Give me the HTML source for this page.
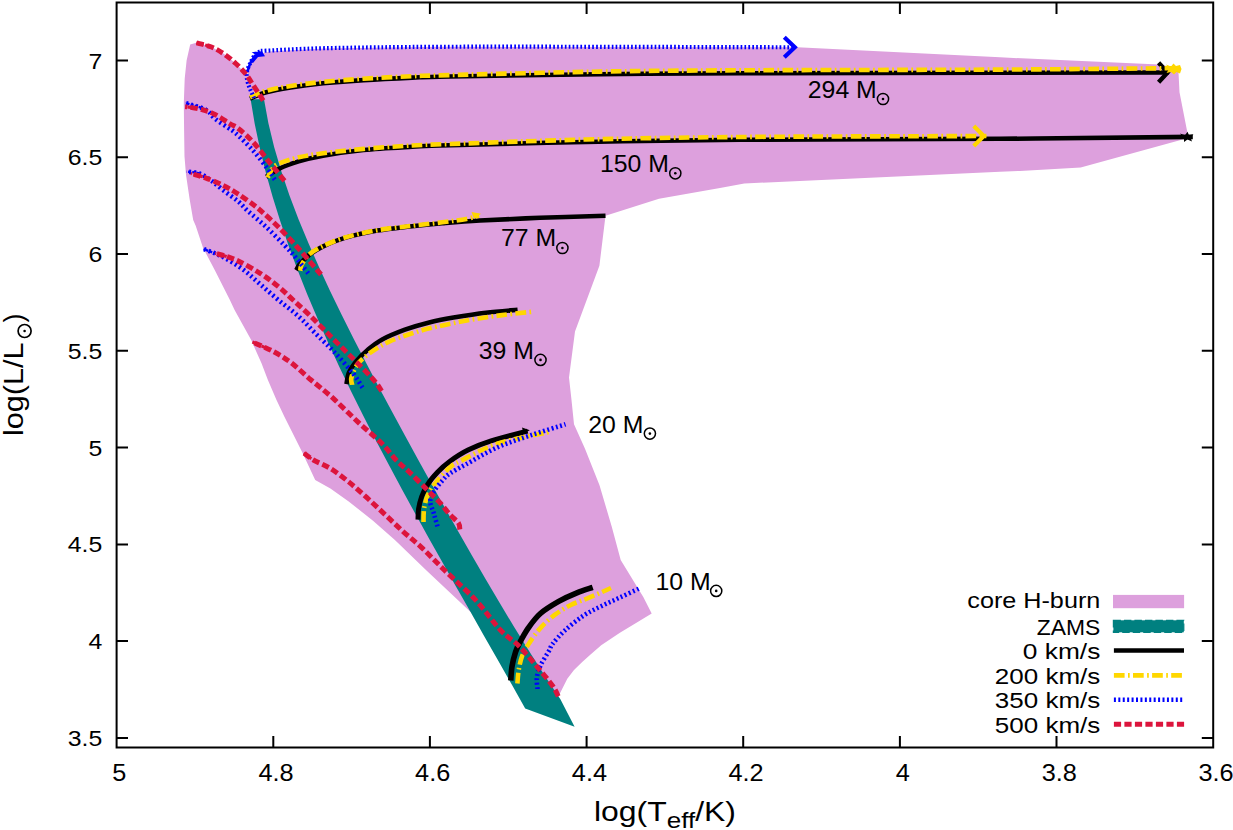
<!DOCTYPE html>
<html><head><meta charset="utf-8"><title>HR diagram</title>
<style>html,body{margin:0;padding:0;background:#fff;}body{width:1233px;height:830px;overflow:hidden;}svg{display:block;}text{font-family:"Liberation Sans",sans-serif;fill:#000;}</style>
</head><body>
<svg width="1233" height="830" viewBox="0 0 1233 830">
<rect x="0" y="0" width="1233" height="830" fill="#fff"/>
<path d="M190.2 44.4 L196.3 42.8 L211.5 47.0 L223.7 53.7 L235.8 63.5 L245.6 73.8 L248.0 73.8 L250.4 62.8 L255.3 56.8 L262.6 53.1 L272.3 51.2 L325.0 48.6 L440.0 46.8 L797.4 47.3 L1000.0 57.3 L1159.0 64.6 L1178.3 68.2 L1179.5 92.3 L1188.0 135.7 L1188.0 138.0 L1080.7 167.5 L1020.0 170.9 L1000.0 171.8 L744.3 183.5 L720.0 187.9 L659.0 198.8 L605.5 215.8 L599.4 265.7 L575.0 331.4 L569.0 377.6 L571.5 400.0 L574.0 424.3 L585.0 448.7 L599.5 485.2 L611.7 526.5 L620.7 560.0 L643.3 597.0 L651.7 613.5 L637.7 622.0 L619.5 633.0 L601.2 645.2 L590.0 655.0 L582.5 661.8 L574.0 670.0 L567.3 678.7 L560.0 693.3 L558.2 696.3 L536.9 666.5 L500.0 630.0 L470.3 611.8 L426.5 570.4 L415.6 560.0 L394.9 540.0 L373.0 520.8 L348.7 501.4 L330.4 488.6 L315.2 480.1 L302.6 453.0 L284.3 416.5 L276.5 400.0 L267.9 380.0 L261.5 363.3 L251.2 340.1 L234.6 310.0 L229.9 300.0 L215.1 270.8 L203.0 247.7 L195.7 225.8 L193.2 220.0 L189.6 199.0 L186.0 174.7 L184.5 156.5 L184.1 130.0 L183.8 103.0 L184.7 78.7 L186.6 60.4Z" fill="#DDA0DD"/>
<path d="M250.6 99.3 L254.7 123.7 L259.8 148.0 L265.8 172.4 L272.6 196.8 L280.2 221.1 L288.5 245.5 L297.6 269.9 L307.2 294.2 L317.5 318.6 L328.3 343.0 L339.5 367.3 L351.3 391.7 L363.4 416.1 L375.9 440.5 L388.8 464.8 L401.9 489.2 L415.2 513.6 L428.7 537.9 L442.4 562.3 L456.1 586.7 L470.0 611.0 L483.8 635.4 L497.7 659.8 L511.5 684.1 L525.2 708.5 L574.6 726.7 L560.4 699.3 L544.5 675.3 L529.2 651.3 L514.3 627.3 L499.9 603.3 L485.7 579.3 L471.8 555.3 L458.1 531.3 L444.6 507.3 L431.2 483.3 L417.9 459.3 L404.8 435.3 L391.8 411.3 L378.9 387.3 L366.3 363.3 L353.9 339.3 L341.9 315.3 L330.2 291.3 L319.1 267.3 L308.5 243.3 L298.5 219.3 L289.4 195.3 L281.3 171.3 L274.2 147.3 L268.4 123.3 L264.0 99.3Z" fill="#008080"/>
<path d="M250.0 98.6 C252.7 97.5 259.4 94.1 266.2 92.2 C273.0 90.3 281.1 88.9 290.6 87.4 C300.1 85.9 310.9 84.5 323.0 83.3 C335.1 82.1 348.6 81.0 363.5 80.1 C378.4 79.1 397.8 78.2 412.2 77.6 C426.6 77.0 418.7 77.1 450.0 76.5 C481.3 75.9 551.7 74.7 600.0 74.2 C648.3 73.7 673.3 73.5 740.0 73.3 C806.7 73.1 928.5 72.9 1000.0 72.8 C1071.5 72.7 1140.6 72.5 1168.7 72.5" fill="none" stroke="#000" stroke-width="4.6"/>
<path d="M266.2 176.8 C268.4 175.5 273.8 171.3 279.2 168.7 C284.6 166.1 291.4 163.6 298.7 161.4 C306.0 159.2 312.2 157.6 323.0 155.7 C333.8 153.8 348.6 151.5 363.5 150.0 C378.4 148.5 397.8 147.6 412.2 146.8 C426.6 146.0 421.0 146.0 450.0 145.2 C479.0 144.4 537.7 142.9 586.0 142.0 C634.3 141.1 671.0 140.3 740.0 139.8 C809.0 139.3 924.5 139.3 1000.0 138.8 C1075.5 138.3 1160.7 137.2 1192.8 136.9" fill="none" stroke="#000" stroke-width="4.6"/>
<path d="M296.2 270.3 C296.8 269.4 297.3 267.2 299.5 264.6 C301.7 262.0 305.4 257.9 309.2 254.9 C313.0 251.9 316.2 249.6 322.2 246.8 C328.1 244.0 335.7 240.6 344.9 237.9 C354.1 235.2 366.5 232.5 377.3 230.6 C388.1 228.7 399.0 227.7 409.8 226.5 C420.6 225.3 430.5 224.3 442.2 223.3 C453.9 222.3 463.7 221.4 480.0 220.5 C496.3 219.6 519.1 218.6 540.0 217.8 C560.9 217.0 594.6 216.1 605.5 215.8" fill="none" stroke="#000" stroke-width="4.6"/>
<path d="M346.5 384.1 C346.9 382.2 347.3 376.5 348.9 372.7 C350.5 368.9 353.1 365.2 356.2 361.4 C359.3 357.6 363.3 353.6 367.6 350.0 C371.9 346.4 376.0 342.9 382.2 339.5 C388.4 336.1 397.1 332.6 404.9 329.7 C412.7 326.8 421.1 324.4 429.2 322.4 C437.3 320.4 444.0 319.2 453.5 317.6 C463.0 316.0 475.3 314.0 486.0 312.7 C496.7 311.4 512.3 310.3 517.6 309.8" fill="none" stroke="#000" stroke-width="4.6"/>
<path d="M418.0 519.6 C418.1 517.8 418.0 512.5 418.6 508.7 C419.2 504.8 420.2 500.6 421.7 496.5 C423.2 492.4 425.1 488.4 427.7 484.3 C430.3 480.2 433.8 476.1 437.5 472.2 C441.2 468.3 444.9 464.9 450.0 461.2 C455.1 457.5 461.1 453.4 468.0 450.0 C474.9 446.6 481.2 443.9 491.1 440.8 C501.0 437.7 521.5 432.7 527.6 431.1" fill="none" stroke="#000" stroke-width="5.0"/>
<path d="M510.8 680.5 C511.0 678.2 511.2 671.3 512.0 666.5 C512.8 661.7 514.3 655.9 515.6 651.9 C516.9 647.9 517.6 646.7 519.7 642.7 C521.8 638.7 524.8 633.0 528.2 628.1 C531.7 623.2 535.3 618.0 540.4 613.5 C545.5 609.0 552.6 604.9 558.7 601.4 C564.8 597.9 571.2 595.1 576.9 592.8 C582.6 590.5 590.1 588.3 592.7 587.4" fill="none" stroke="#000" stroke-width="5.6"/>
<path d="M1158.6 62.7 L1167.6 72.5 L1158.6 82.3" fill="none" stroke="#000000" stroke-width="4.4" stroke-linejoin="miter"/>
<path d="M1180 133.5 L1185 135.2 L1187.5 131.8 L1189 135.2 L1193.5 134.2 L1190.5 137.6 L1192 141.5 L1187.5 139.6 L1184 142 L1184 138.5 Z" fill="#000"/>
<path d="M522 427.6 L529.8 430.2 L523.5 433.6 Z" fill="#000"/>
<path d="M250.0 97.3 C252.7 96.2 259.4 92.7 266.2 90.8 C273.0 88.9 281.1 87.5 290.6 86.0 C300.1 84.5 310.9 83.1 323.0 81.9 C335.1 80.7 348.6 79.7 363.5 78.7 C378.4 77.8 397.8 76.8 412.2 76.2 C426.6 75.6 418.7 75.9 450.0 75.1 C481.3 74.3 551.7 72.4 600.0 71.6 C648.3 70.8 673.3 70.6 740.0 70.3 C806.7 70.0 926.8 69.9 1000.0 69.6 C1073.2 69.2 1149.6 68.4 1179.5 68.2" fill="none" stroke="#FFD700" stroke-width="4.6" stroke-dasharray="10.7 3.4 1.7 3.3"/>
<path d="M267.8 177.6 C268.4 176.3 269.7 172.3 271.5 170.0 C273.3 167.7 273.9 165.9 278.4 163.8 C282.9 161.7 291.3 159.1 298.7 157.3 C306.1 155.6 312.2 154.7 323.0 153.3 C333.8 151.9 348.6 150.2 363.5 148.9 C378.4 147.6 397.8 146.3 412.2 145.5 C426.6 144.7 421.0 145.0 450.0 144.0 C479.0 143.0 537.7 140.7 586.0 139.5 C634.3 138.3 673.3 137.6 740.0 137.0 C806.7 136.4 945.3 136.2 986.4 136.0" fill="none" stroke="#FFD700" stroke-width="4.6" stroke-dasharray="10.7 3.4 1.7 3.3"/>
<path d="M300.3 270.8 C300.5 269.8 300.0 267.7 301.5 265.0 C303.0 262.3 305.8 257.6 309.2 254.5 C312.6 251.4 316.2 249.2 322.2 246.4 C328.1 243.6 335.7 240.2 344.9 237.5 C354.1 234.8 366.5 232.1 377.3 230.2 C388.1 228.3 399.0 227.3 409.8 226.0 C420.6 224.7 432.8 223.5 442.2 222.3 C451.6 221.1 460.4 220.0 466.5 218.9 C472.6 217.8 476.9 216.1 479.0 215.5" fill="none" stroke="#FFD700" stroke-width="4.6" stroke-dasharray="10.7 3.4 1.7 3.3"/>
<path d="M352.2 384.9 C352.1 383.7 350.5 381.1 351.4 377.6 C352.3 374.1 354.6 368.0 357.8 363.8 C361.0 359.6 365.7 356.0 370.8 352.4 C375.9 348.8 381.7 345.1 388.7 341.9 C395.7 338.7 404.9 335.6 413.0 333.0 C421.1 330.4 427.8 328.7 437.3 326.5 C446.8 324.3 459.0 321.9 469.8 320.0 C480.6 318.1 491.5 316.5 502.2 315.1 C512.9 313.7 528.5 312.2 533.8 311.6" fill="none" stroke="#FFD700" stroke-width="4.6" stroke-dasharray="10.7 3.4 1.7 3.3"/>
<path d="M423.5 522.0 C423.6 519.8 423.4 513.1 424.1 508.7 C424.8 504.2 425.7 499.8 427.7 495.3 C429.7 490.8 432.6 486.6 436.3 481.9 C440.0 477.2 445.9 470.8 450.0 467.3 C454.1 463.8 452.9 464.7 460.8 460.8 C468.7 456.9 482.3 448.7 497.3 443.8 C512.3 438.9 542.0 433.6 550.9 431.6" fill="none" stroke="#FFD700" stroke-width="4.6" stroke-dasharray="10.7 3.4 1.7 3.3"/>
<path d="M517.4 683.5 C517.6 681.3 517.9 674.8 518.7 670.1 C519.5 665.4 520.5 660.1 522.3 655.5 C524.1 650.9 526.5 647.3 529.5 642.7 C532.5 638.1 536.1 632.8 540.4 628.1 C544.6 623.4 549.9 618.6 555.0 614.7 C560.1 610.9 565.1 607.8 570.8 605.0 C576.5 602.2 582.4 600.5 589.1 597.7 C595.8 594.9 607.4 589.6 611.0 588.0" fill="none" stroke="#FFD700" stroke-width="4.6" stroke-dasharray="10.7 3.4 1.7 3.3"/>
<path d="M274.8 179.6 C273.6 177.8 271.1 173.6 267.5 168.7 C263.9 163.8 258.2 156.3 252.9 150.4 C247.6 144.5 240.1 137.2 235.8 133.4 C231.5 129.6 230.8 129.7 227.3 127.3 C223.9 124.9 218.8 121.8 215.1 118.8 C211.4 115.8 210.4 112.1 205.4 109.5 C200.4 106.9 188.7 104.1 185.3 103.0" fill="none" stroke="#0000FF" stroke-width="4.6" stroke-dasharray="2 2.9"/>
<path d="M205.4 109.5 L202.4 108.2 L198.7 106.9 L194.7 105.7 L190.9 104.6 L187.6 103.7 L185.3 103.0" fill="none" stroke="#0000FF" stroke-width="2.4" stroke-dasharray="3 1.2"/>
<path d="M308.2 273.3 C306.3 270.9 300.6 263.4 296.7 258.7 C292.8 254.0 289.6 250.6 284.5 245.3 C279.4 240.0 272.3 232.7 266.2 227.0 C260.1 221.3 252.7 215.4 248.0 211.2 C243.3 206.9 242.4 204.9 238.3 201.5 C234.2 198.1 228.2 194.0 223.7 190.6 C219.2 187.2 215.6 183.7 211.5 180.8 C207.4 178.0 203.5 175.0 199.3 173.5 C195.2 172.0 188.7 172.0 186.6 171.7" fill="none" stroke="#0000FF" stroke-width="4.6" stroke-dasharray="2 2.9"/>
<path d="M199.3 173.5 L197.1 172.9 L194.6 172.4 L192.2 172.1 L189.9 172.0 L188.0 171.8 L186.6 171.7" fill="none" stroke="#0000FF" stroke-width="2.4" stroke-dasharray="3 1.2"/>
<path d="M362.5 387.6 C360.9 385.2 357.4 378.9 352.7 373.0 C348.0 367.1 340.6 358.8 334.5 352.3 C328.4 345.8 322.3 340.2 316.2 334.1 C310.1 328.0 304.3 321.5 298.0 315.8 C291.7 310.1 284.7 305.3 278.4 300.0 C272.1 294.7 266.1 289.3 260.2 284.2 C254.3 279.1 249.2 274.1 243.1 269.6 C237.0 265.1 230.3 260.8 223.7 257.4 C217.1 253.9 206.9 250.3 203.6 248.9" fill="none" stroke="#0000FF" stroke-width="4.6" stroke-dasharray="2 2.9"/>
<path d="M223.7 257.4 L220.2 255.7 L216.3 254.0 L212.4 252.4 L208.8 251.0 L205.8 249.8 L203.6 248.9" fill="none" stroke="#0000FF" stroke-width="2.4" stroke-dasharray="3 1.2"/>
<path d="M437.5 526.3 C436.9 524.2 435.0 517.6 433.8 513.5 C432.6 509.4 430.2 505.0 430.2 501.4 C430.2 497.8 431.8 495.1 433.8 491.6 C435.8 488.2 439.6 483.7 442.3 480.7 C445.0 477.7 446.1 476.1 450.0 473.4 C453.9 470.7 457.8 468.8 465.7 464.5 C473.6 460.2 486.6 452.2 497.3 447.4 C508.0 442.6 518.6 439.4 530.0 435.5 C541.4 431.6 559.6 426.2 565.5 424.3" fill="none" stroke="#0000FF" stroke-width="4.6" stroke-dasharray="1.9 2.52"/>
<path d="M537.5 689.0 C537.4 687.1 536.4 681.4 536.9 677.4 C537.4 673.4 538.6 669.8 540.6 665.3 C542.6 660.8 547.1 654.3 549.1 650.7 C551.1 647.1 550.0 647.2 552.6 643.9 C555.2 640.5 559.6 635.2 564.7 630.6 C569.8 626.0 576.9 620.1 583.0 616.0 C589.1 611.9 595.1 609.2 601.2 606.2 C607.3 603.2 613.2 600.6 619.5 597.7 C625.8 594.8 635.8 590.1 639.0 588.6" fill="none" stroke="#0000FF" stroke-width="4.6" stroke-dasharray="1.9 2.52"/>
<path d="M254.0 98.0 C253.0 95.6 249.2 87.7 248.0 83.5 C246.8 79.3 246.4 76.0 246.8 72.6 C247.2 69.1 249.0 65.8 250.4 62.8 C251.8 59.8 253.7 56.2 255.3 54.3 C256.9 52.4 258.2 52.1 260.0 51.5 C261.8 50.9 255.4 51.2 266.2 50.7 C277.0 50.2 296.0 48.9 325.0 48.2 C354.0 47.6 394.2 47.0 440.0 46.8 C485.8 46.6 540.8 46.7 600.0 46.8 C659.2 46.9 762.5 47.2 795.0 47.3" fill="none" stroke="#0000FF" stroke-width="4.2" stroke-dasharray="1.7 2.2"/>
<path d="M247.2 72 L250.4 62.8 L255.3 55" fill="none" stroke="#0000FF" stroke-width="2.6"/>
<path d="M251.6 52.2 L262 51.2 L265 56.2 L258 57 L253 63 L250.5 62 L255.5 54.5 Z" fill="#0000FF"/>
<path d="M263.2 100.6 C262.7 99.8 261.9 98.3 260.2 95.7 C258.5 93.1 255.3 88.4 252.9 84.7 C250.5 81.0 248.4 77.3 245.6 73.8 C242.8 70.3 239.5 66.8 235.8 63.5 C232.2 60.1 227.8 56.5 223.7 53.7 C219.6 51.0 216.1 48.8 211.5 47.0 C206.9 45.2 198.8 43.5 196.3 42.8" fill="none" stroke="#DC143C" stroke-width="5" stroke-dasharray="7.2 3.3"/>
<path d="M209.0 46.1 L206.1 45.3 L203.1 44.5 L200.4 43.8 L198.0 43.2 L196.3 42.8" fill="none" stroke="#DC143C" stroke-width="3.2" stroke-dasharray="4 1.5"/>
<path d="M284.5 180.8 C281.9 177.6 274.0 167.9 268.7 161.4 C263.4 154.9 258.0 147.4 252.9 141.9 C247.8 136.4 242.2 131.5 238.3 128.5 C234.4 125.5 233.8 126.1 229.7 123.7 C225.6 121.3 219.0 116.4 213.9 113.9 C208.8 111.5 204.1 110.2 199.3 109.0 C194.5 107.8 187.6 107.0 185.3 106.6" fill="none" stroke="#DC143C" stroke-width="5" stroke-dasharray="7.2 3.3"/>
<path d="M196.8 108.4 L194.1 107.9 L191.4 107.5 L188.9 107.1 L186.8 106.8 L185.3 106.6" fill="none" stroke="#DC143C" stroke-width="3.2" stroke-dasharray="4 1.5"/>
<path d="M321.0 274.5 C319.6 272.9 316.6 269.4 312.5 264.7 C308.4 260.0 302.4 252.8 296.7 246.5 C291.0 240.2 284.1 232.7 278.4 227.0 C272.7 221.3 266.7 216.0 262.6 212.4 C258.6 208.8 258.1 208.2 254.1 205.2 C250.0 202.2 243.4 197.4 238.3 194.2 C233.2 190.9 229.2 188.4 223.7 185.7 C218.2 183.0 210.9 179.8 205.4 177.8 C199.9 175.8 193.2 174.2 190.8 173.5" fill="none" stroke="#DC143C" stroke-width="5" stroke-dasharray="7.2 3.3"/>
<path d="M202.6 176.8 L199.7 175.9 L197.0 175.2 L194.4 174.5 L192.3 173.9 L190.8 173.5" fill="none" stroke="#DC143C" stroke-width="3.2" stroke-dasharray="4 1.5"/>
<path d="M381.7 391.0 C380.6 389.4 377.8 384.9 375.0 381.5 C372.2 378.1 369.6 375.5 364.9 370.6 C360.2 365.7 352.8 358.4 346.7 352.3 C340.6 346.2 334.5 340.2 328.4 334.1 C322.3 328.0 316.1 321.5 310.2 315.8 C304.3 310.1 298.4 304.9 293.1 300.0 C287.8 295.1 283.9 291.1 278.4 286.6 C272.9 282.2 267.3 277.8 260.2 273.3 C253.1 268.9 243.3 263.2 235.8 259.9 C228.3 256.5 218.6 254.3 215.1 253.2" fill="none" stroke="#DC143C" stroke-width="5" stroke-dasharray="7.2 3.3"/>
<path d="M231.9 258.3 L227.9 256.9 L223.9 255.7 L220.3 254.7 L217.3 253.9 L215.1 253.2" fill="none" stroke="#DC143C" stroke-width="3.2" stroke-dasharray="4 1.5"/>
<path d="M459.8 529.5 C459.6 528.4 460.1 525.5 458.5 523.0 C456.9 520.5 453.1 518.1 450.0 514.7 C446.9 511.3 443.6 506.7 439.9 502.6 C436.2 498.6 432.8 495.5 427.7 490.4 C422.6 485.3 414.8 477.3 409.5 472.2 C404.2 467.1 400.7 464.8 396.1 460.0 C391.5 455.2 388.2 449.7 381.7 443.3 C375.2 436.9 365.4 428.9 357.3 421.4 C349.2 413.9 340.7 405.1 333.0 398.2 C325.3 391.3 318.0 385.8 311.1 380.0 C304.2 374.2 298.1 368.0 291.9 363.3 C285.7 358.6 280.3 355.2 273.7 351.7 C267.1 348.1 255.9 343.6 252.4 342.0" fill="none" stroke="#DC143C" stroke-width="5" stroke-dasharray="7.2 3.3"/>
<path d="M270.1 349.9 L266.0 348.0 L261.9 346.1 L258.0 344.4 L254.8 343.0 L252.4 342.0" fill="none" stroke="#DC143C" stroke-width="3.2" stroke-dasharray="4 1.5"/>
<path d="M558.2 696.3 C557.3 694.6 556.2 691.0 552.7 686.0 C549.2 681.0 542.6 673.2 536.9 666.5 C531.2 659.8 524.8 651.9 518.7 645.8 C512.6 639.7 507.6 637.7 500.4 630.0 C493.1 622.3 484.7 609.7 475.2 599.6 C465.7 589.5 452.4 577.9 443.5 569.2 C434.6 560.5 428.4 553.8 421.7 547.6 C415.0 541.4 409.5 537.3 403.4 531.8 C397.3 526.3 391.3 520.4 385.2 514.7 C379.1 509.0 373.0 503.2 366.9 497.7 C360.8 492.2 354.8 486.8 348.7 481.9 C342.6 477.0 336.3 472.1 330.4 468.5 C324.5 464.9 317.8 462.6 313.4 460.0 C309.0 457.4 305.4 454.2 303.8 453.0" fill="none" stroke="#DC143C" stroke-width="5" stroke-dasharray="7.2 3.3"/>
<path d="M311.3 458.7 L309.3 457.3 L307.5 456.0 L306.0 454.8 L304.8 453.7 L303.8 453.0" fill="none" stroke="#DC143C" stroke-width="3.2" stroke-dasharray="4 1.5"/>
<path d="M784.3 37.3 L794.8 47.3 L784.3 57.3" fill="none" stroke="#0000FF" stroke-width="4.2" stroke-linejoin="miter"/>
<path d="M973.8 126.0 L983.8 136.0 L973.8 146.0" fill="none" stroke="#FFD700" stroke-width="4.2" stroke-linejoin="miter"/>
<path d="M1166 64.5 L1171 66.5 L1173.5 63.5 L1176 66 L1180 65 L1181.5 69 L1180 73.5 L1176.5 72 L1174 74.5 L1171 72 L1166.5 73 L1169 69 Z" fill="#FFD700"/>
<path d="M471.5 212 L481 213.8 L474 219 Z" fill="#FFD700"/>
<rect x="116.6" y="2.5" width="1096.6" height="745.0" fill="none" stroke="#000" stroke-width="2"/>
<path d="M273.3 747.5V736.1M273.3 2.5V13.9M429.9 747.5V736.1M429.9 2.5V13.9M586.6 747.5V736.1M586.6 2.5V13.9M743.2 747.5V736.1M743.2 2.5V13.9M899.9 747.5V736.1M899.9 2.5V13.9M1056.5 747.5V736.1M1056.5 2.5V13.9M116.6 60.5H128.0M1213.2 60.5H1201.8M116.6 157.3H128.0M1213.2 157.3H1201.8M116.6 254.0H128.0M1213.2 254.0H1201.8M116.6 350.8H128.0M1213.2 350.8H1201.8M116.6 447.6H128.0M1213.2 447.6H1201.8M116.6 544.4H128.0M1213.2 544.4H1201.8M116.6 641.1H128.0M1213.2 641.1H1201.8M116.6 737.9H128.0M1213.2 737.9H1201.8" stroke="#000" stroke-width="2" fill="none"/>
<text transform="translate(119.4,780.6) scale(1.100,1)" font-size="23.0" text-anchor="middle">5</text>
<text transform="translate(276.1,780.6) scale(1.100,1)" font-size="23.0" text-anchor="middle">4.8</text>
<text transform="translate(432.7,780.6) scale(1.100,1)" font-size="23.0" text-anchor="middle">4.6</text>
<text transform="translate(589.4,780.6) scale(1.100,1)" font-size="23.0" text-anchor="middle">4.4</text>
<text transform="translate(746.0,780.6) scale(1.100,1)" font-size="23.0" text-anchor="middle">4.2</text>
<text transform="translate(902.7,780.6) scale(1.100,1)" font-size="23.0" text-anchor="middle">4</text>
<text transform="translate(1059.3,780.6) scale(1.100,1)" font-size="23.0" text-anchor="middle">3.8</text>
<text transform="translate(1216.0,780.6) scale(1.100,1)" font-size="23.0" text-anchor="middle">3.6</text>
<text transform="translate(102.3,68.5) scale(1.090,1)" font-size="22.8" text-anchor="end">7</text>
<text transform="translate(102.3,165.3) scale(1.090,1)" font-size="22.8" text-anchor="end">6.5</text>
<text transform="translate(102.3,262.0) scale(1.090,1)" font-size="22.8" text-anchor="end">6</text>
<text transform="translate(102.3,358.8) scale(1.090,1)" font-size="22.8" text-anchor="end">5.5</text>
<text transform="translate(102.3,455.6) scale(1.090,1)" font-size="22.8" text-anchor="end">5</text>
<text transform="translate(102.3,552.4) scale(1.090,1)" font-size="22.8" text-anchor="end">4.5</text>
<text transform="translate(102.3,649.1) scale(1.090,1)" font-size="22.8" text-anchor="end">4</text>
<text transform="translate(102.3,745.9) scale(1.090,1)" font-size="22.8" text-anchor="end">3.5</text>
<text x="594" y="820.6" font-size="27" textLength="142" lengthAdjust="spacingAndGlyphs">log(T<tspan font-size="22" dy="7.5">eff</tspan><tspan dy="-7.5">/K)</tspan></text>
<g transform="translate(23.1,436) rotate(-90)"><text x="0" y="0" font-size="27" textLength="93.5" lengthAdjust="spacingAndGlyphs">log(L/L</text><text x="113.6" y="0" font-size="27" textLength="9" lengthAdjust="spacingAndGlyphs">)</text></g>
<circle cx="24.6" cy="331.0" r="6.5" fill="none" stroke="#000" stroke-width="1.7"/><circle cx="24.6" cy="331.0" r="1.3" fill="#000"/>
<text transform="translate(807.8,97.7) scale(1.065,1)" font-size="23.3" text-anchor="start">294 M</text>
<circle cx="883.0" cy="99.0" r="5.6" fill="none" stroke="#000" stroke-width="1.5"/><circle cx="883.0" cy="99.0" r="1.3" fill="#000"/>
<text transform="translate(600.0,171.6) scale(1.065,1)" font-size="23.3" text-anchor="start">150 M</text>
<circle cx="675.3" cy="173.3" r="5.6" fill="none" stroke="#000" stroke-width="1.5"/><circle cx="675.3" cy="173.3" r="1.3" fill="#000"/>
<text transform="translate(501.0,246.0) scale(1.065,1)" font-size="23.3" text-anchor="start">77 M</text>
<circle cx="562.4" cy="248.0" r="5.6" fill="none" stroke="#000" stroke-width="1.5"/><circle cx="562.4" cy="248.0" r="1.3" fill="#000"/>
<text transform="translate(478.7,358.5) scale(1.065,1)" font-size="23.3" text-anchor="start">39 M</text>
<circle cx="540.5" cy="359.9" r="5.6" fill="none" stroke="#000" stroke-width="1.5"/><circle cx="540.5" cy="359.9" r="1.3" fill="#000"/>
<text transform="translate(588.3,433.1) scale(1.065,1)" font-size="23.3" text-anchor="start">20 M</text>
<circle cx="649.9" cy="433.6" r="5.6" fill="none" stroke="#000" stroke-width="1.5"/><circle cx="649.9" cy="433.6" r="1.3" fill="#000"/>
<text transform="translate(655.5,589.5) scale(1.065,1)" font-size="23.3" text-anchor="start">10 M</text>
<circle cx="716.2" cy="590.9" r="5.6" fill="none" stroke="#000" stroke-width="1.5"/><circle cx="716.2" cy="590.9" r="1.3" fill="#000"/>
<text x="1100.3" y="608.1" font-size="22.8" text-anchor="end" textLength="133.0" lengthAdjust="spacingAndGlyphs">core H-burn</text>
<text x="1100.3" y="634.6" font-size="22.8" text-anchor="end" textLength="63.5" lengthAdjust="spacingAndGlyphs">ZAMS</text>
<text x="1100.3" y="659.3" font-size="22.8" text-anchor="end" textLength="77.5" lengthAdjust="spacingAndGlyphs">0 km/s</text>
<text x="1100.3" y="683.9" font-size="22.8" text-anchor="end" textLength="105.5" lengthAdjust="spacingAndGlyphs">200 km/s</text>
<text x="1100.3" y="708.0" font-size="22.8" text-anchor="end" textLength="105.5" lengthAdjust="spacingAndGlyphs">350 km/s</text>
<text x="1100.3" y="732.6" font-size="22.8" text-anchor="end" textLength="105.5" lengthAdjust="spacingAndGlyphs">500 km/s</text>
<rect x="1113" y="594.9" width="71.1" height="13.3" fill="#DDA0DD"/>
<rect x="1113.4" y="620.3" width="70.4" height="12" fill="#008080" stroke="#008080" stroke-width="1.2" stroke-dasharray="7.5 3"/>
<path d="M1113.9 650.5H1184" stroke="#000" stroke-width="4.6"/>
<path d="M1113.9 675.4H1184" stroke="#FFD700" stroke-width="4.6" stroke-dasharray="10.7 3.4 1.7 3.3"/>
<path d="M1113.9 699.8H1184.1" stroke="#0000FF" stroke-width="4.6" stroke-dasharray="2 2.42"/>
<path d="M1113.9 724.3H1184.1" stroke="#DC143C" stroke-width="5" stroke-dasharray="7.2 3.3"/>
</svg></body></html>
